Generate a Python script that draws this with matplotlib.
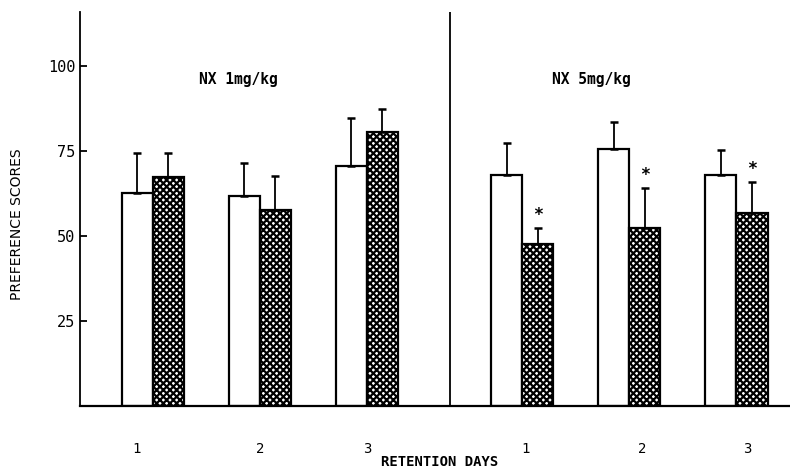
# Preference scores by retention day, NX 1 mg/kg vs 5 mg/kg

import numpy as np
import matplotlib.pyplot as plt

days = ['1', '2', '3']
# NX 1mg/kg
low_ctrl = [62.6, 61.8, 70.6]
low_ctrl_err = [11.8, 9.7, 14.1]
low_nx = [67.3, 57.6, 80.6]
low_nx_err = [7.1, 10.0, 6.8]
# NX 5mg/kg
high_ctrl = [67.9, 75.6, 67.9]
high_ctrl_err = [9.5, 7.9, 7.4]
high_nx = [47.6, 52.4, 56.8]
high_nx_err = [4.8, 11.7, 9.1]
signif = [True, True, True]

plt.rcParams['font.family'] = ['DejaVu Sans Mono']
plt.rcParams['hatch.linewidth'] = 1.6
fig = plt.figure(figsize=(7.9, 4.71), dpi=100)
ax = fig.add_axes([0.101, 0.138, 0.899, 0.8365])

w = 0.29
pos_low = np.arange(3)
pos_high = np.arange(3) + 3.45
err_kw = dict(ecolor='black', elinewidth=1.3, capsize=3, capthick=1.8)

def draw_pair(pos, ctrl, ctrl_err, nx, nx_err):
    ax.bar(pos - w / 2, ctrl, w, color='white', edgecolor='black', linewidth=1.6,
           yerr=[np.zeros(3), ctrl_err], error_kw=err_kw, zorder=2)
    ax.bar(pos + w / 2, nx, w, color='white', edgecolor='black', linewidth=1.6,
           hatch='xxxxx', yerr=[np.zeros(3), nx_err], error_kw=err_kw, zorder=2)

draw_pair(pos_low, low_ctrl, low_ctrl_err, low_nx, low_nx_err)
draw_pair(pos_high, high_ctrl, high_ctrl_err, high_nx, high_nx_err)

for x, m, e, s in zip(pos_high + w / 2, high_nx, high_nx_err, signif):
    if s:
        ax.text(x, m + e + 1.2, '*', ha='center', va='bottom', fontsize=12, fontweight='bold')

# divider between doses
ax.axvline(2.78, ymin=0, ymax=1, color='black', linewidth=1.3)

ax.text(0.8, 96, 'NX 1mg/kg', ha='center', va='center', fontsize=10.5, fontweight='bold')
ax.text(4.1, 96, 'NX 5mg/kg', ha='center', va='center', fontsize=10.5, fontweight='bold')

ax.set_xlim(-0.68, 5.95)
ax.set_ylim(0, 116)
ax.set_yticks([25, 50, 75, 100])
ax.set_yticklabels(['25', '50', '75', '100'], fontsize=11)
ax.tick_params(axis='y', direction='in', length=5, width=1.3, pad=3)
ax.set_xticks([-0.15, 1.0, 2.0, 3.48, 4.57, 5.55])
ax.set_xticklabels(days + days, fontsize=10)
ax.tick_params(axis='x', length=0, pad=26)

ax.spines['top'].set_visible(False)
ax.spines['right'].set_visible(False)
ax.spines['left'].set_linewidth(1.3)
ax.spines['bottom'].set_linewidth(1.6)

ax.set_ylabel('PREFERENCE SCORES', fontsize=10, family='DejaVu Sans')
ax.set_xlabel('RETENTION DAYS', fontsize=10, fontweight='bold', va='center')
ax.xaxis.set_label_coords(0.506, -0.142)
ax.yaxis.set_label_coords(-0.079, 0.462)

fig.savefig('out.png', dpi=100)
